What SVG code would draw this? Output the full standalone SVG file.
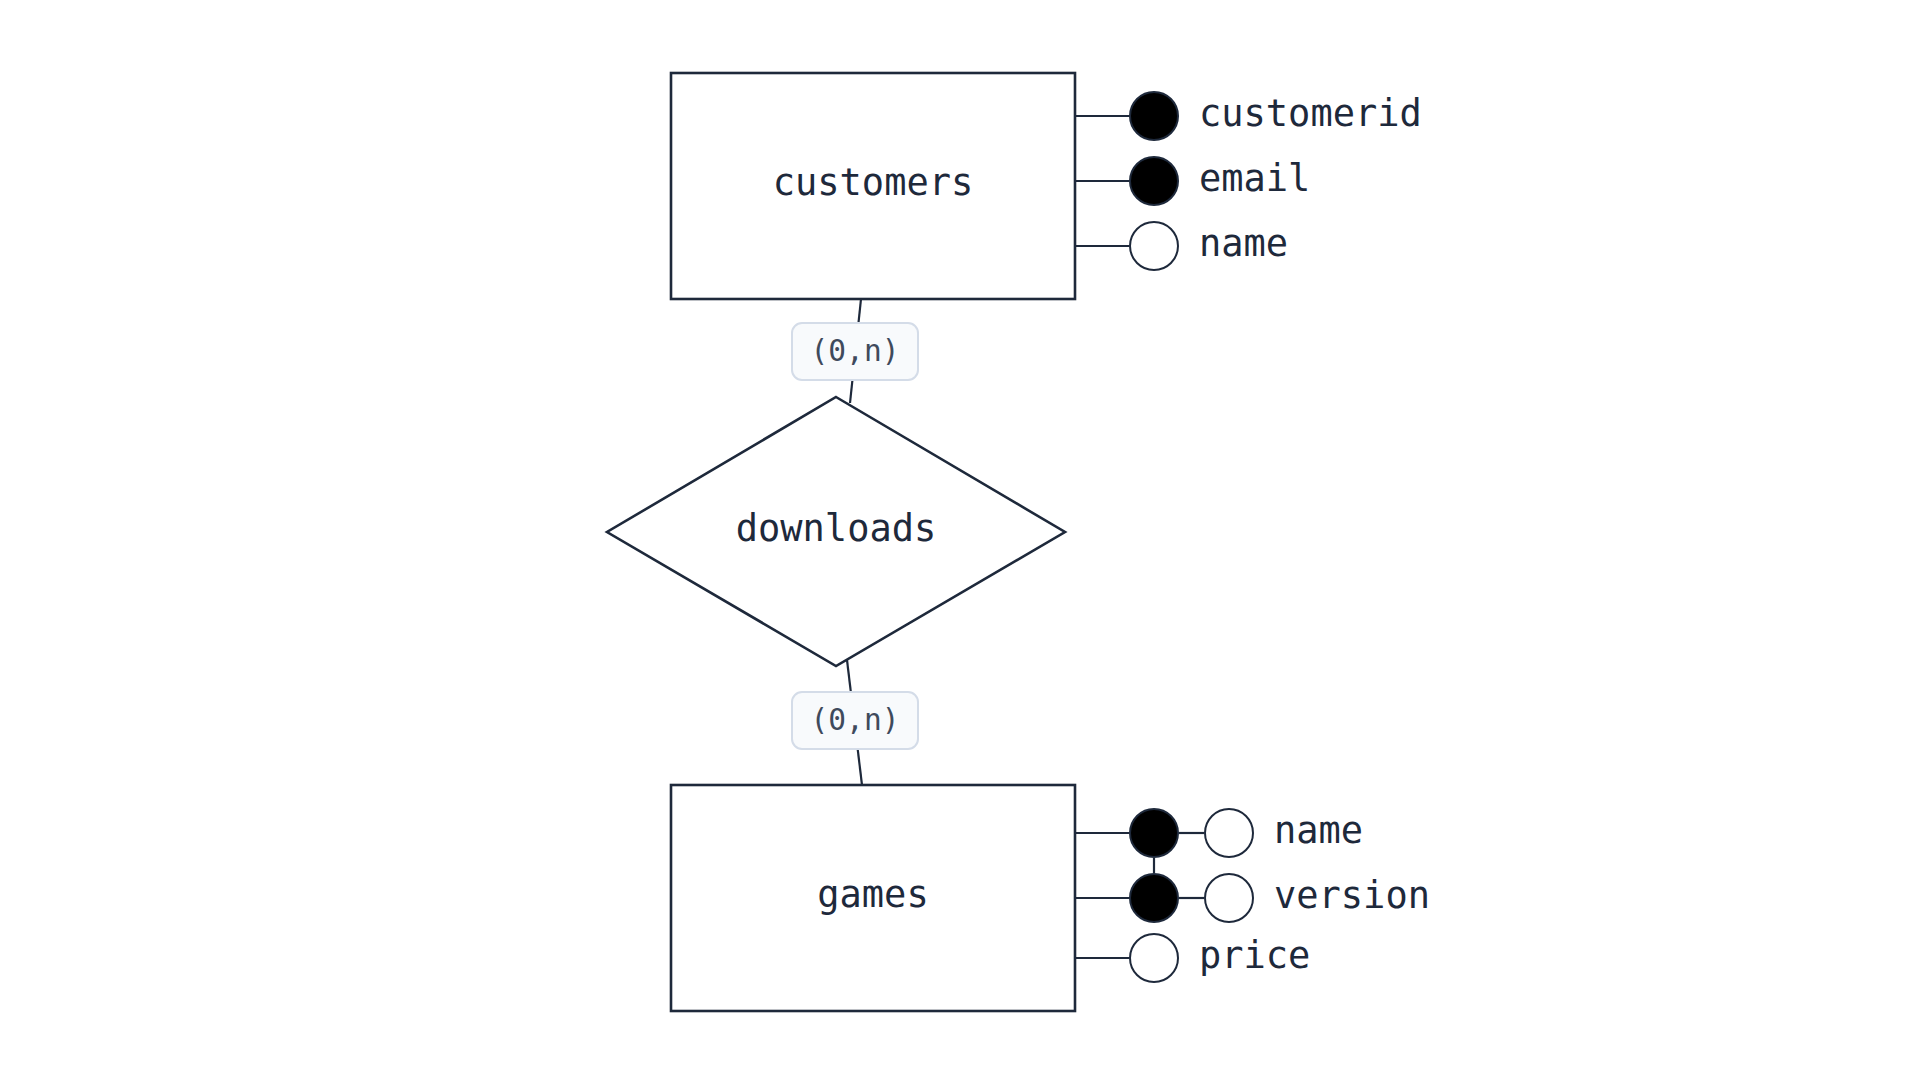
<svg xmlns="http://www.w3.org/2000/svg" width="1920" height="1080" viewBox="0 0 1920 1080">
<style>
.shape{fill:#ffffff;stroke:#1e293b;stroke-width:2.6}
.conn{fill:none;stroke:#1e293b;stroke-width:2.2}
.txt{font-family:"DejaVu Sans Mono","Liberation Mono",monospace;font-size:37px;fill:#1e293b}
.lbl{fill:#f8fafc;stroke:#d4dce8;stroke-width:2}
.lbltxt{font-family:"DejaVu Sans Mono","Liberation Mono",monospace;font-size:29.5px;fill:#3f4a5c;text-anchor:middle}
.key{fill:#000000;stroke:#1e293b;stroke-width:2}
.attr{fill:#ffffff;stroke:#1e293b;stroke-width:2}
</style>
<rect width="1920" height="1080" fill="#ffffff"/>
<g id="connectors">
<line class="conn" x1="861" y1="299" x2="850" y2="403"/>
<line class="conn" x1="847" y1="660" x2="862" y2="785"/>
<line class="conn" x1="1075" y1="116" x2="1129" y2="116"/>
<line class="conn" x1="1075" y1="181" x2="1129" y2="181"/>
<line class="conn" x1="1075" y1="246" x2="1129" y2="246"/>
<line class="conn" x1="1075" y1="833" x2="1129" y2="833"/>
<line class="conn" x1="1075" y1="898" x2="1129" y2="898"/>
<line class="conn" x1="1075" y1="958" x2="1129" y2="958"/>
<line class="conn" x1="1179" y1="833" x2="1204" y2="833"/>
<line class="conn" x1="1179" y1="898" x2="1204" y2="898"/>
<line class="conn" x1="1154" y1="858" x2="1154" y2="873"/>
</g>
<g id="label-customers-downloads">
<rect class="lbl" x="792" y="323" width="126" height="57" rx="10"/>
<text class="lbltxt" x="855" y="361">(0,n)</text>
</g>
<g id="label-downloads-games">
<rect class="lbl" x="792" y="692" width="126" height="57" rx="10"/>
<text class="lbltxt" x="855" y="730">(0,n)</text>
</g>
<g id="customers">
<rect class="shape" x="671" y="73" width="404" height="226"/>
<text class="txt" x="873" y="195" text-anchor="middle">customers</text>
</g>
<g id="downloads">
<polygon class="shape" points="836,397 1065,532 836,666 607,532"/>
<text class="txt" x="836" y="541" text-anchor="middle">downloads</text>
</g>
<g id="games">
<rect class="shape" x="671" y="785" width="404" height="226"/>
<text class="txt" x="873" y="907" text-anchor="middle">games</text>
</g>
<g id="attr-customerid">
<circle class="key" cx="1154" cy="116" r="24"/>
<text class="txt" x="1199" y="126">customerid</text>
</g>
<g id="attr-email">
<circle class="key" cx="1154" cy="181" r="24"/>
<text class="txt" x="1199" y="191">email</text>
</g>
<g id="attr-customer-name">
<circle class="attr" cx="1154" cy="246" r="24"/>
<text class="txt" x="1199" y="256">name</text>
</g>
<g id="attr-game-name">
<circle class="key" cx="1154" cy="833" r="24"/>
<circle class="attr" cx="1229" cy="833" r="24"/>
<text class="txt" x="1274" y="843">name</text>
</g>
<g id="attr-version">
<circle class="key" cx="1154" cy="898" r="24"/>
<circle class="attr" cx="1229" cy="898" r="24"/>
<text class="txt" x="1274" y="908">version</text>
</g>
<g id="attr-price">
<circle class="attr" cx="1154" cy="958" r="24"/>
<text class="txt" x="1199" y="968">price</text>
</g>
</svg>
